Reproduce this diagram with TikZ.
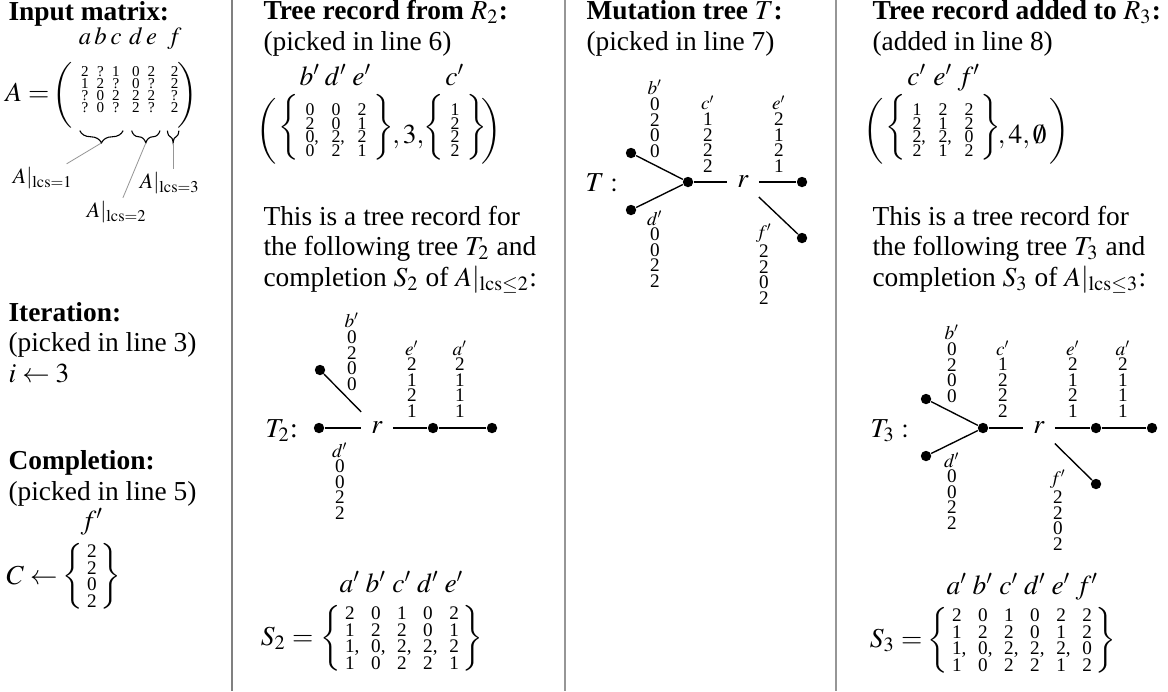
\documentclass[tikz,border=0pt]{standalone}
\usepackage{amsmath}
\usepackage{mathptmx}
\usepackage[no-math]{fontspec}
\setmainfont{Liberation Serif}
\usepackage{tikz}
\usetikzlibrary{matrix,positioning,decorations.pathreplacing,calc}
\definecolor{rulegray}{RGB}{128,128,128}
\definecolor{linegray}{RGB}{150,150,150}
\newcommand{\opentup}[1]{$\left(\vcenter{\hbox{\vrule height #1 depth #1 width 0pt}}\right.$}
\newcommand{\closetup}[1]{$\left.\vcenter{\hbox{\vrule height #1 depth #1 width 0pt}}\right)$}

\begin{document}
\begin{tikzpicture}[x=0.365pt, y=-0.365pt,
  para/.style={anchor=base west, align=left, inner sep=0pt, font=\fontsize{10}{11.1}\selectfont},
  colname/.style={anchor=base, inner sep=0pt},
  digitsA/.style={matrix of nodes, inner sep=0pt, row sep=0.6pt, column sep=2.86pt,
    nodes={font=\fontsize{5.5}{6}\selectfont, inner sep=0pt, text height=3.7pt, text depth=0pt, minimum width=2.8pt}},
  setS/.style={matrix of nodes, inner xsep=0pt, inner ysep=1pt, left delimiter=\{, right delimiter=\}, row sep=1.3pt, column sep=6pt,
    nodes={font=\fontsize{7}{8}\selectfont, inner sep=0pt, text height=4.7pt, text depth=0pt, minimum width=3.5pt}},
  setT/.style={setS, inner xsep=1pt, row sep=0.6pt, column sep=6.2pt,
    nodes={font=\fontsize{6.5}{7}\selectfont, text height=4.4pt, minimum width=3.3pt}},
  stk/.style={align=center, inner sep=0pt, font=\fontsize{7}{5.7}\selectfont},
  dot/.style={circle, fill=black, inner sep=0pt, minimum size=3.8pt},
  rnode/.style={inner sep=3.5pt},
  edge/.style={line width=0.5pt},
  ubrace/.style={decorate, decoration={brace, mirror, amplitude=4.5pt}, line width=0.4pt},
  lead/.style={draw=linegray, line width=0.3pt},
  lcslbl/.style={font=\footnotesize, inner sep=1pt},
  sepbold/.style={draw=rulegray, line width=1pt},
  septhin/.style={draw=linegray, line width=0.4pt}
]
\useasboundingbox (0,0) rectangle (1168,691);

% column separators
\draw[sepbold] (232,0) -- (232,691);
\draw[septhin] (565,0) -- (565,691);
\draw[septhin] (836,0) -- (836,691);

% ---- input matrix
\node[para] (hin) at (8,20) {\textbf{Input matrix:}};
\node[anchor=base east, inner sep=0pt] (Aeq) at (50,101) {$A=$};
\matrix[digitsA] (Amat) at (129.75,89.5) {
  2 & ? & 1 &[1.64pt] 0 & 2 &[2.74pt] 2 \\
  1 & 2 & ? & 0 & ? & 2 \\
  ? & 0 & 2 & 2 & 2 & ? \\
  ? & 0 & ? & 2 & ? & 2 \\
};
\node[inner sep=0pt] (Alp) at (64,95) {\opentup{12pt}};
\node[inner sep=0pt] (Arp) at (186,95) {\closetup{12pt}};
\foreach \c/\l in {1/a,2/b,3/c,4/d,5/e,6/f}
  \node[colname, font=\fontsize{9}{10}\selectfont] (lab-\l) at ([yshift=7.9pt]Amat-1-\c.north) {$\l$};

\coordinate (b1s) at ([xshift=-0.3pt,yshift=-6.5pt]Amat-4-1.south west);
\coordinate (b1e) at ([xshift=1pt,yshift=-6.5pt]Amat-4-3.south east);
\coordinate (b2s) at ([yshift=-6.5pt]Amat-4-4.south west);
\coordinate (b2e) at ([xshift=1.5pt,yshift=-6.5pt]Amat-4-5.south east);
\coordinate (b3s) at ([xshift=-1pt,yshift=-6.5pt]Amat-4-6.south west);
\coordinate (b3e) at ([yshift=-6.5pt]Amat-4-6.south east);
\draw[ubrace] (b1s) -- (b1e);
\draw[ubrace] (b2s) -- (b2e);
\draw[ubrace] (b3s) -- (b3e);
\coordinate (tip1) at ($(b1s)!0.5!(b1e)+(0,-4.5pt)$);
\coordinate (tip2) at ($(b2s)!0.5!(b2e)+(0,-4.5pt)$);
\coordinate (tip3) at ($(b3s)!0.5!(b3e)+(0,-4.5pt)$);
\node[lcslbl] (lcs1) at (43,178) {$A|_{\mathrm{lcs}=1}$};
\node[lcslbl] (lcs2) at (117,212) {$A|_{\mathrm{lcs}=2}$};
\node[lcslbl] (lcs3) at (170,183) {$A|_{\mathrm{lcs}=3}$};
\draw[lead] (tip1) -- (lcs1);
\draw[lead] (tip2) -- (lcs2);
\draw[lead] (tip3) -- (tip3 |- lcs3.north);

% ---- iteration and completion
\node[para] (hit) at (8,382) {\textbf{Iteration:}\\(picked in line 3)\\$i\leftarrow 3$};
\node[para] (hco) at (8,500) {\textbf{Completion:}\\(picked in line 5)};
\node[anchor=base east, inner sep=0pt] (Cget) at (58,584) {$C\leftarrow$};
\matrix[setS] (Cset) at (92,576) {2\\2\\0\\2\\};
\node[colname] (Cf) at ([yshift=5.5pt]Cset-1-1.north) {$f'$};

% ---- tree record from R2
\node[para] (hR2) at (263,50) {\textbf{Tree record from $R_2$:}\\(picked in line 6)};
\node[inner sep=0pt] (R2lp) at (268,131) {\opentup{12.2pt}};
\matrix[setT] (R2a) at (336,130) {
  0 & 0 & 2 \\
  2 & 0 & 1 \\
  0\rlap{,} & 2\rlap{,} & 2 \\
  0 & 2 & 1 \\
};
\foreach \c/\l in {1/b,2/d,3/e}
  \node[colname] (r2-\l) at ([yshift=6.5pt]R2a-1-\c.north) {$\l'$};
\node[anchor=base west, inner sep=0pt] (R2k) at ([xshift=9pt]R2a-3-3.south east) {$,3,$};
\matrix[setT] (R2b) at (455,130) {1\\2\\2\\2\\};
\node[colname] (r2-c) at ([yshift=6.5pt]R2b-1-1.north) {$c'$};
\node[inner sep=0pt] (R2rp) at (490,131) {\closetup{12.2pt}};

\node[para] (pR2) at (263,286) {This is a tree record for\\the following tree $T_2$ and\\completion $S_2$ of $A|_{\mathrm{lcs}\le 2}$:};

% tree T2
\node[anchor=base west, inner sep=0pt] (t2name) at (265,437) {$T_2$:};
\node[dot] (t2u) at (320,370) {};
\node[dot] (t2l) at (319,428) {};
\node[rnode] (t2r) at (377,428) {$r$};
\node[dot] (t2e) at (433,428) {};
\node[dot] (t2a) at (492,428) {};
\draw[edge] (t2u) -- (t2r);
\draw[edge] (t2l) -- (t2r);
\draw[edge] (t2r) -- (t2e);
\draw[edge] (t2e) -- (t2a);
\node[stk, anchor=south] (t2b) at (352,391) {$b'$\\0\\2\\0\\0};
\node[stk, anchor=south] (t2ee) at (412,418) {$e'$\\2\\1\\2\\1};
\node[stk, anchor=south] (t2aa) at (460,418) {$a'$\\2\\1\\1\\1};
\node[stk, anchor=north] (t2d) at (340,442) {$d'$\\0\\0\\2\\2};

% S2
\node[anchor=base east, inner sep=0pt] (S2eq) at (314,645) {$S_2=$};
\matrix[setS] (S2) at (402,638) {
  2 & 0 & 1 & 0 & 2 \\
  1 & 2 & 2 & 0 & 1 \\
  1\rlap{,} & 0\rlap{,} & 2\rlap{,} & 2\rlap{,} & 2 \\
  1 & 0 & 2 & 2 & 1 \\
};
\foreach \c/\l in {1/a,2/b,3/c,4/d,5/e}
  \node[colname] (s2-\l) at ([yshift=5.1pt]S2-1-\c.north) {$\l'$};

% ---- mutation tree T
\node[para] (hT) at (586,50) {\textbf{Mutation tree $T$:}\\(picked in line 7)};
\node[anchor=base west, inner sep=0pt] (tname) at (585,191) {$T:$};
\node[dot] (tu) at (631,153) {};
\node[dot] (tl) at (631,210) {};
\node[dot] (tc) at (688,182) {};
\node[rnode] (tr) at (743,182) {$r$};
\node[dot] (te) at (802,182) {};
\node[dot] (tf) at (802,238) {};
\draw[edge] (tu) -- (tc);
\draw[edge] (tl) -- (tc);
\draw[edge] (tc) -- (tr);
\draw[edge] (tr) -- (te);
\draw[edge] (tr) -- (tf);
\node[stk, anchor=south] (tb) at (655,158) {$b'$\\0\\2\\0\\0};
\node[stk, anchor=south] (tcc) at (708,173) {$c'$\\1\\2\\2\\2};
\node[stk, anchor=south] (tee) at (779,173) {$e'$\\2\\1\\2\\1};
\node[stk, anchor=north] (td) at (655,210) {$d'$\\0\\0\\2\\2};
\node[stk, anchor=north] (tff) at (764,223) {$f'$\\2\\2\\0\\2};

% ---- tree record added to R3
\node[para] (hR3) at (872,50) {\textbf{Tree record added to $R_3$:}\\(added in line 8)};
\node[inner sep=0pt] (R3lp) at (875,131) {\opentup{12.2pt}};
\matrix[setT] (R3a) at (943,130) {
  1 & 2 & 2 \\
  2 & 1 & 2 \\
  2\rlap{,} & 2\rlap{,} & 0 \\
  2 & 1 & 2 \\
};
\foreach \c/\l in {1/c,2/e,3/f}
  \node[colname] (r3-\l) at ([yshift=6.5pt]R3a-1-\c.north) {$\l'$};
\node[anchor=base west, inner sep=0pt] (R3k) at ([xshift=8.5pt]R3a-3-3.south east) {$,4,\emptyset$};
\node[inner sep=0pt] (R3rp) at (1058,131) {\closetup{12.2pt}};

\node[para] (pR3) at (872,286) {This is a tree record for\\the following tree $T_3$ and\\completion $S_3$ of $A|_{\mathrm{lcs}\le 3}$:};

% tree T3
\node[anchor=base west, inner sep=0pt] (t3name) at (870,437) {$T_3:$};
\node[dot] (t3u) at (926,399) {};
\node[dot] (t3l) at (926,456) {};
\node[dot] (t3c) at (983,428) {};
\node[rnode] (t3r) at (1039,428) {$r$};
\node[dot] (t3e) at (1096,428) {};
\node[dot] (t3a) at (1152,428) {};
\node[dot] (t3f) at (1096,484) {};
\draw[edge] (t3u) -- (t3c);
\draw[edge] (t3l) -- (t3c);
\draw[edge] (t3c) -- (t3r);
\draw[edge] (t3r) -- (t3e);
\draw[edge] (t3e) -- (t3a);
\draw[edge] (t3r) -- (t3f);
\node[stk, anchor=south] (t3b) at (952,403) {$b'$\\0\\2\\0\\0};
\node[stk, anchor=south] (t3cc) at (1003,418) {$c'$\\1\\2\\2\\2};
\node[stk, anchor=south] (t3ee) at (1073,418) {$e'$\\2\\1\\2\\1};
\node[stk, anchor=south] (t3aa) at (1123,418) {$a'$\\2\\1\\1\\1};
\node[stk, anchor=north] (t3d) at (952,452) {$d'$\\0\\0\\2\\2};
\node[stk, anchor=north] (t3ff) at (1058,469) {$f'$\\2\\2\\0\\2};

% S3
\node[anchor=base east, inner sep=0pt] (S3eq) at (923,647) {$S_3=$};
\matrix[setS] (S3) at (1022,640) {
  2 & 0 & 1 & 0 & 2 & 2 \\
  1 & 2 & 2 & 0 & 1 & 2 \\
  1\rlap{,} & 0\rlap{,} & 2\rlap{,} & 2\rlap{,} & 2\rlap{,} & 0 \\
  1 & 0 & 2 & 2 & 1 & 2 \\
};
\foreach \c/\l in {1/a,2/b,3/c,4/d,5/e,6/f}
  \node[colname] (s3-\l) at ([yshift=5.1pt]S3-1-\c.north) {$\l'$};
\end{tikzpicture}
\end{document}
